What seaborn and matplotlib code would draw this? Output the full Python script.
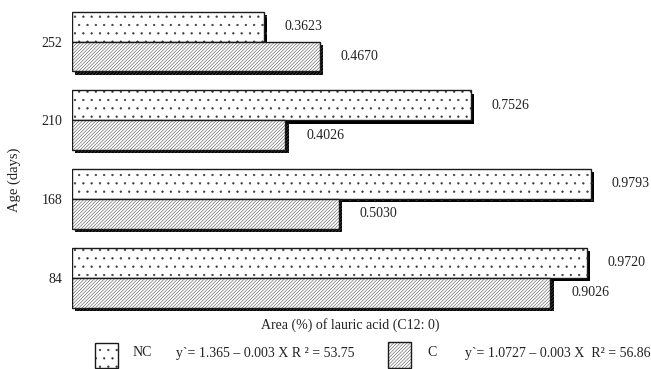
import matplotlib
matplotlib.use("Agg")
import matplotlib.pyplot as plt
import matplotlib.patheffects as pe
from matplotlib.colors import to_rgba
from matplotlib.patches import Rectangle
import pandas as pd
import seaborn as sns

ages = ["252", "210", "168", "84"]
nc_area = [0.3623, 0.7526, 0.9793, 0.9720]
c_area = [0.4670, 0.4026, 0.5030, 0.9026]
groups = ["NC", "C"]
nc_equation = "y`= 1.365 \u2013 0.003 X R \u00b2 = 53.75"
c_equation = "y`= 1.0727 \u2013 0.003 X  R\u00b2 = 56.86"
x_title = "Area (%) of lauric acid (C12: 0)"
y_title = "Age (days)"

sns.set_theme(style="white")
plt.rcParams["font.family"] = ["Liberation Serif", "DejaVu Serif"]
plt.rcParams["hatch.linewidth"] = 0.4

FS = 10
TXT = "#222222"

df = pd.DataFrame({
    "age": ages * 2,
    "area": nc_area + c_area,
    "group": ["NC"] * len(ages) + ["C"] * len(ages),
})

fig = plt.figure(figsize=(6.51, 3.69), dpi=100)
ax = fig.add_axes([72 / 651, 0.141, 530 / 651, 0.853])

sns.barplot(data=df, y="age", x="area", hue="group", order=ages,
            hue_order=groups, orient="h", width=0.76, dodge=True,
            palette={"NC": "white", "C": "white"}, edgecolor="#1a1a1a",
            linewidth=1.0, legend=False, ax=ax)

hatches = {"NC": "..", "C": "//////////"}
hatch_colors = {"NC": "#3a3a3a", "C": "#555555"}
shadow = [pe.SimplePatchShadow(offset=(2.4, -2.4), shadow_rgbFace="black", alpha=1.0),
          pe.Normal()]


def style_patch(p, grp):
    p.set_hatch(hatches[grp])
    p._hatch_color = to_rgba(hatch_colors[grp])


for cont, grp in zip(ax.containers, groups):
    for bar in cont:
        style_patch(bar, grp)
        bar.set_path_effects(shadow)

# value labels beside each bar
for cont, grp in zip(ax.containers, groups):
    for bar in cont:
        val = bar.get_width()
        yc = bar.get_y() + bar.get_height() / 2
        ax.annotate(f"{val:.4f}", xy=(val, yc), xytext=(15, 0),
                    textcoords="offset points", ha="left", va="center",
                    fontsize=FS, color=TXT, annotation_clip=False)

ax.set_xlim(0, 1)
ax.set_ylim(3.5, -0.5)
for s in ax.spines.values():
    s.set_visible(False)
ax.set_xticks([])
ax.tick_params(axis="y", length=0, pad=7, labelsize=FS, labelcolor=TXT)
ax.set_xlabel("")
ax.set_ylabel("")

fig.text(350 / 651, 1 - 325 / 369, x_title, ha="center", va="center",
         fontsize=FS, color=TXT)
fig.text(14 / 651, 1 - 180 / 369, y_title, ha="center", va="center",
         rotation=90, fontsize=10.5, color=TXT)


# legend row
def legend_box(x0, y0, w, h, grp):
    r = Rectangle((x0 / 651, 1 - (y0 + h) / 369), w / 651, h / 369,
                  transform=fig.transFigure, facecolor="white",
                  edgecolor="#1a1a1a", linewidth=1.0)
    style_patch(r, grp)
    fig.patches.append(r)


legend_box(95, 343, 23, 25, "NC")
legend_box(388, 342, 23, 26, "C")
ly = 1 - 353 / 369
fig.text(133 / 651, ly, "NC", ha="left", va="center", fontsize=FS, color=TXT)
fig.text(176 / 651, ly, nc_equation, ha="left", va="center", fontsize=FS, color=TXT)
fig.text(427 / 651, ly, "C", ha="left", va="center", fontsize=FS, color=TXT)
fig.text(465 / 651, ly, c_equation, ha="left", va="center", fontsize=FS, color=TXT)

fig.savefig("out.png", dpi=100)
